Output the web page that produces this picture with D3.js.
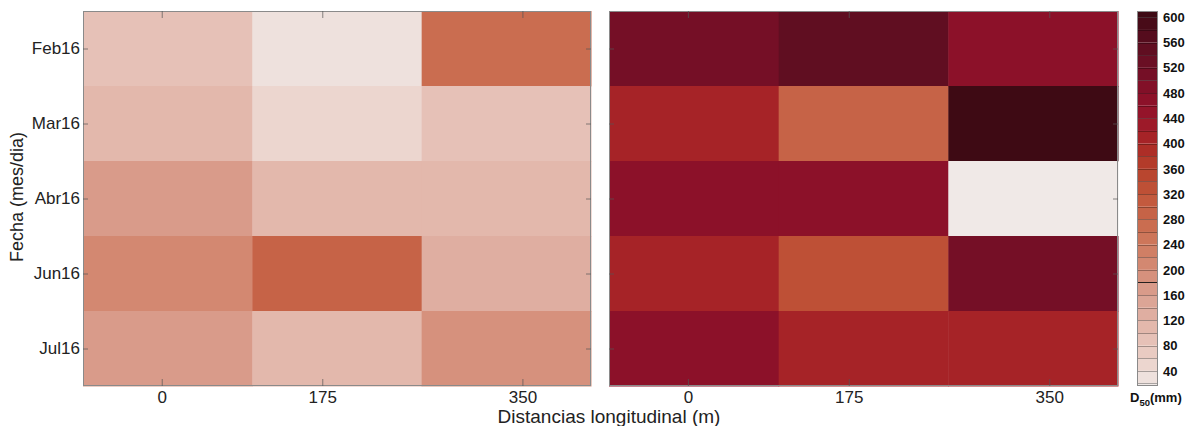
<!DOCTYPE html>
<html>
<head>
<meta charset="utf-8">
<script src="https://cdn.jsdelivr.net/npm/d3@7"></script>
<style>
  html, body { margin: 0; padding: 0; background: #fff; }
  svg { display: block; font-family: "Liberation Sans", Arial, sans-serif; }
</style>
</head>
<body>
<svg id="chart" width="1190" height="426"></svg>
<script>
// Sampling dates (rows) and longitudinal stations (columns)
const dates = ["Feb16", "Mar16", "Abr16", "Jun16", "Jul16"];
const distances = [0, 175, 350];

// D50 grain size (mm), one row per date, one value per station
const d50Left = [
  [85, 35, 265],
  [105, 50, 88],
  [165, 118, 118],
  [210, 285, 135],
  [162, 112, 190]
];
const d50Right = [
  [515, 545, 470],
  [415, 290, 605],
  [470, 470, 18],
  [405, 325, 515],
  [475, 415, 415]
];

// Colour bar
const colorbarTicks = [40, 80, 120, 160, 200, 240, 280, 320, 360, 400, 440, 480, 520, 560, 600];
const colorDomain = [16, 610];
const binStep = 20;

const svg = d3.select("#chart");
const plotTop = 11, plotBottom = 386;
const panels = [
  { x0: 83, x1: 591, values: d50Left, labelsY: true },
  { x0: 609, x1: 1118, values: d50Right, labelsY: false }
];

// Colormap: near white -> salmon -> brick red -> crimson -> dark wine
const ramp = d3.scaleLinear()
  .domain([16, 40, 80, 120, 160, 200, 240, 280, 320, 360, 400, 440, 480, 520, 560, 610])
  .range(["#f0eae9", "#eddbd5", "#e7c6bc", "#e1b3a6", "#daa090", "#d48c77", "#ce7a5f",
          "#c8684b", "#c1553a", "#b6412b", "#aa2726", "#98152a", "#881029", "#6f0f25",
          "#5b0d1f", "#3b0a13"])
  .interpolate(d3.interpolateRgb)
  .clamp(true);

const thresholds = d3.range(binStep, colorDomain[1], binStep); // 20 .. 600
const binEdges = [colorDomain[0], ...thresholds, colorDomain[1]];
const binColors = d3.range(binEdges.length - 1).map(i => ramp((binEdges[i] + binEdges[i + 1]) / 2));
const color = d3.scaleThreshold().domain(thresholds).range(binColors);

// Station positions along each panel's x axis (fraction of the panel width)
const stationFrac = d3.scaleLinear().domain(distances).range([0.155, 0.471, 0.865]);

const fontFamily = "'Liberation Sans', Arial, sans-serif";

panels.forEach(p => {
  const g = svg.append("g");
  const x = d3.scaleBand().domain(d3.range(distances.length)).range([p.x0, p.x1]);
  const y = d3.scaleBand().domain(dates).range([plotTop, plotBottom]);
  const xd = d3.scaleLinear().domain(distances)
    .range(distances.map(d => p.x0 + stationFrac(d) * (p.x1 - p.x0)));

  // cells
  dates.forEach((dt, r) => {
    g.selectAll(null)
      .data(p.values[r])
      .join("rect")
      .attr("x", (v, c) => x(c))
      .attr("y", y(dt))
      .attr("width", x.bandwidth() + 0.5)
      .attr("height", y.bandwidth() + 0.5)
      .attr("fill", v => color(v));
  });

  // frame
  g.append("rect")
    .attr("x", p.x0 + 0.5).attr("y", plotTop + 0.5)
    .attr("width", p.x1 - p.x0 - 1).attr("height", plotBottom - plotTop - 1)
    .attr("fill", "none").attr("stroke", "#8a8a8a").attr("stroke-width", 1);

  const yc = d => y(d) + y.bandwidth() / 2;
  const yAxisPos = d3.scalePoint().domain(dates)
    .range([yc(dates[0]), yc(dates[dates.length - 1])]);

  // bottom axis (ticks pointing inward)
  const ax = g.append("g").attr("transform", `translate(0,${plotBottom})`)
    .call(d3.axisBottom(xd).tickValues(distances).tickFormat(d3.format("d"))
      .tickSizeInner(-7).tickSizeOuter(0).tickPadding(5));
  ax.select(".domain").remove();
  ax.selectAll("line").attr("stroke", "#555").attr("stroke-opacity", 0.7);
  ax.selectAll("text").attr("font-size", 17).attr("fill", "#222").attr("font-family", fontFamily);

  // top ticks
  const at = g.append("g").attr("transform", `translate(0,${plotTop})`)
    .call(d3.axisTop(xd).tickValues(distances).tickFormat("").tickSizeInner(-7).tickSizeOuter(0));
  at.select(".domain").remove();
  at.selectAll("line").attr("stroke", "#555").attr("stroke-opacity", 0.7);

  // left axis
  const al = g.append("g").attr("transform", `translate(${p.x0},0)`)
    .call(d3.axisLeft(yAxisPos).tickFormat(p.labelsY ? (d => d) : "")
      .tickSizeInner(-5).tickSizeOuter(0).tickPadding(3));
  al.select(".domain").remove();
  al.selectAll("line").attr("stroke", "#555").attr("stroke-opacity", 0.7);
  al.selectAll("text").attr("font-size", 17).attr("fill", "#222").attr("font-family", fontFamily);

  // right ticks
  const ar = g.append("g").attr("transform", `translate(${p.x1},0)`)
    .call(d3.axisRight(yAxisPos).tickFormat("").tickSizeInner(-5).tickSizeOuter(0));
  ar.select(".domain").remove();
  ar.selectAll("line").attr("stroke", "#555").attr("stroke-opacity", 0.7);
});

// Axis titles
svg.append("text")
  .attr("transform", "translate(17,197) rotate(-90)")
  .attr("text-anchor", "middle").attr("dy", "0.35em")
  .attr("font-size", 18).attr("fill", "#222")
  .text("Fecha (mes/dia)");

svg.append("text")
  .attr("x", 609).attr("y", 423)
  .attr("text-anchor", "middle")
  .attr("font-size", 19).attr("fill", "#222")
  .text("Distancias longitudinal (m)");

// Colour bar
const cb = { x0: 1137, x1: 1158 };
const cbY = d3.scaleLinear().domain(colorDomain).range([plotBottom, plotTop]);
const cg = svg.append("g");
cg.selectAll("rect.bin")
  .data(d3.range(binEdges.length - 1))
  .join("rect")
  .attr("class", "bin")
  .attr("x", cb.x0)
  .attr("y", i => cbY(binEdges[i + 1]))
  .attr("width", cb.x1 - cb.x0)
  .attr("height", i => cbY(binEdges[i]) - cbY(binEdges[i + 1]))
  .attr("fill", i => binColors[i]);

cg.selectAll("line.edge")
  .data(thresholds)
  .join("line")
  .attr("class", "edge")
  .attr("x1", cb.x0).attr("x2", cb.x1)
  .attr("y1", d => Math.round(cbY(d)) + 0.5).attr("y2", d => Math.round(cbY(d)) + 0.5)
  .attr("stroke", d => d === 180 ? "#111" : "#000")
  .attr("stroke-opacity", d => d === 180 ? 0.9 : 0.3);

cg.append("rect")
  .attr("x", cb.x0 + 0.5).attr("y", plotTop + 0.5)
  .attr("width", cb.x1 - cb.x0 - 1).attr("height", plotBottom - plotTop - 1)
  .attr("fill", "none").attr("stroke", "#8a8a8a");

const cax = cg.append("g").attr("transform", `translate(${cb.x1},0)`)
  .call(d3.axisRight(cbY).tickValues(colorbarTicks).tickSize(0).tickPadding(5));
cax.select(".domain").remove();
cax.selectAll("text").attr("font-size", 13).attr("font-weight", "bold").attr("fill", "#111")
  .attr("font-family", fontFamily);

const unit = svg.append("text")
  .attr("x", 1130).attr("y", 401.5)
  .attr("font-size", 13).attr("font-weight", "bold").attr("fill", "#111");
unit.append("tspan").text("D");
unit.append("tspan").attr("font-size", 9.5).attr("dy", 4).text("50");
unit.append("tspan").attr("dy", -4).text("(mm)");
</script>
</body>
</html>
